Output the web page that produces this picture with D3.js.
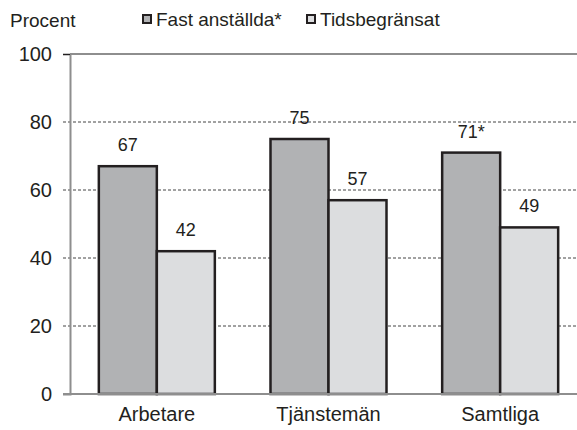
<!DOCTYPE html>
<html><head><meta charset="utf-8">
<script src="https://cdn.jsdelivr.net/npm/d3@7"></script>
<style>
body{margin:0;background:#fff;}
svg{display:block;font-family:"Liberation Sans",Arial,sans-serif;}
</style></head>
<body>
<script>
const categories = ["Arbetare", "Tjänstemän", "Samtliga"];
const seriesNames = ["Fast anställda*", "Tidsbegränsat"];
const fastValues = [67, 75, 71];
const tidsValues = [42, 57, 49];
const fastLabels = ["67", "75", "71*"];
const tidsLabels = ["42", "57", "49"];
const yTicks = [0, 20, 40, 60, 80, 100];

const W = 577, H = 430;
const svg = d3.select("body").append("svg").attr("width", W).attr("height", H);

const x = d3.scaleBand().domain(categories).range([71, 586]).padding(0);
const y = d3.scaleLinear().domain([0, 100]).range([394, 54]);
const barW = 58;
const colors = ["#b1b2b4", "#dcdddf"];

// gridlines
svg.append("g").selectAll("line").data(yTicks.filter(d => d > 0 && d < 100)).join("line")
  .attr("x1", 63).attr("x2", W).attr("y1", d => y(d)).attr("y2", d => y(d))
  .attr("stroke", "#444").attr("stroke-width", 1).attr("stroke-dasharray", "3,2");

// top frame line
svg.append("line").attr("x1", 70).attr("x2", W).attr("y1", y(100)).attr("y2", y(100))
  .attr("stroke", "#8e8e8e").attr("stroke-width", 2);

// bars
const series = [fastValues, tidsValues];
const labels = [fastLabels, tidsLabels];
series.forEach((vals, si) => {
  const g = svg.append("g");
  g.selectAll("rect").data(categories).join("rect")
    .attr("x", (c) => x(c) + x.bandwidth() / 2 - barW + si * barW)
    .attr("y", (c, i) => y(vals[i]))
    .attr("width", barW)
    .attr("height", (c, i) => y(0) - y(vals[i]))
    .attr("fill", colors[si]).attr("stroke", "#231f20").attr("stroke-width", 2.5);
  g.selectAll("text").data(categories).join("text")
    .attr("x", (c) => x(c) + x.bandwidth() / 2 - barW / 2 + si * barW)
    .attr("y", (c, i) => y(vals[i]) - 15)
    .attr("text-anchor", "middle").attr("font-size", 18).attr("fill", "#231f20")
    .text((c, i) => labels[si][i]);
});

// y axis
const yAxis = svg.append("g").attr("transform", "translate(70,0)")
  .call(d3.axisLeft(y).tickValues(yTicks).tickSize(7).tickPadding(11));
yAxis.select(".domain").attr("stroke", "#8e8e8e").attr("stroke-width", 2);
yAxis.selectAll(".tick line").attr("stroke", d => d === 100 ? "#231f20" : "none");
yAxis.selectAll(".tick text").attr("font-size", 20).attr("fill", "#231f20")
  .attr("font-family", "Liberation Sans, Arial, sans-serif");

// x axis baseline
svg.append("line").attr("x1", 63).attr("x2", W).attr("y1", y(0)).attr("y2", y(0))
  .attr("stroke", "#8e8e8e").attr("stroke-width", 2);

// x category labels
const xAxis = svg.append("g").attr("transform", "translate(0,394)")
  .call(d3.axisBottom(x).tickSize(0).tickPadding(13));
xAxis.select(".domain").remove();
xAxis.selectAll(".tick text").attr("font-size", 20).attr("fill", "#231f20")
  .attr("font-family", "Liberation Sans, Arial, sans-serif");

// Procent label
svg.append("text").attr("x", 10).attr("y", 27).attr("font-size", 19).attr("fill", "#231f20").text("Procent");

// legend
const legX = [143, 307];
seriesNames.forEach((n, i) => {
  svg.append("rect").attr("x", legX[i]).attr("y", 15).attr("width", 8).attr("height", 8)
    .attr("fill", colors[i]).attr("stroke", "#231f20").attr("stroke-width", 2);
  svg.append("text").attr("x", legX[i] + 13).attr("y", 26).attr("font-size", 19).attr("fill", "#231f20").text(n);
});
</script>
</body></html>
